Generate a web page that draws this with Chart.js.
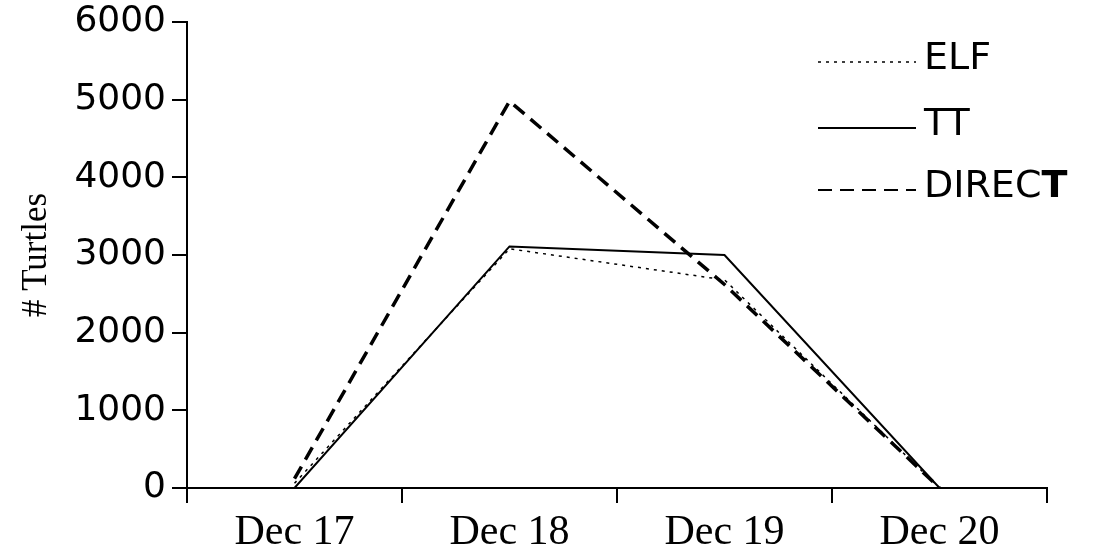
<!DOCTYPE html>
<html>
<head>
<meta charset="utf-8">
<style>
  html, body { margin: 0; padding: 0; background: #fff; }
  #wrap { width: 1100px; height: 555px; position: relative; }
</style>
<script src="https://cdn.jsdelivr.net/npm/chart.js@4/dist/chart.umd.min.js"></script>
</head>
<body>
<div id="wrap"><canvas id="turtles"></canvas></div>
<script>
const days = ['Dec 17', 'Dec 18', 'Dec 19', 'Dec 20'];
const elf = [60, 3080, 2680, 0];
const tt = [0, 3110, 3000, 0];
const direct = [120, 4980, 2620, 0];
const yTicks = [0, 1000, 2000, 3000, 4000, 5000, 6000];

const ctx = document.getElementById('turtles').getContext('2d');

// legend drawn by hand so it can sit over the plot, top right
const cornerLegend = {
  id: 'cornerLegend',
  afterDraw(chart) {
    const c = chart.ctx;
    const rows = [62, 128, 190];
    c.save();
    chart.data.datasets.forEach((ds, i) => {
      const y = rows[i];
      c.beginPath();
      c.setLineDash(ds.borderDash || []);
      c.lineWidth = Math.min(ds.borderWidth, 2);
      c.strokeStyle = '#000';
      c.moveTo(818, y);
      c.lineTo(916, y);
      c.stroke();
      c.setLineDash([]);
      c.fillStyle = '#000';
      c.textBaseline = 'middle';
      c.textAlign = 'left';
      c.font = '38px "DejaVu Sans"';
      if (ds.label === 'DIRECT') {
        const head = ds.label.slice(0, -1);
        c.fillText(head, 924, y - 3);
        const w = c.measureText(head).width;
        c.font = 'bold 38px "DejaVu Sans"';
        c.fillText(ds.label.slice(-1), 924 + w, y - 3);
      } else {
        c.fillText(ds.label, 924, y - 3);
      }
    });
    c.restore();
  }
};

new Chart(ctx, {
  type: 'line',
  data: {
    labels: days,
    datasets: [
      { label: 'ELF', data: elf, borderColor: '#000', borderWidth: 1.5, borderDash: [3, 5] },
      { label: 'TT', data: tt, borderColor: '#000', borderWidth: 2 },
      { label: 'DIRECT', data: direct, borderColor: '#000', borderWidth: 3.5, borderDash: [14, 8] }
    ]
  },
  options: {
    responsive: true,
    maintainAspectRatio: false,
    animation: false,
    layout: { padding: { top: 22, right: 53, left: 0, bottom: 0 } },
    elements: {
      line: { tension: 0, fill: false },
      point: { radius: 0, hoverRadius: 0 }
    },
    plugins: {
      legend: { display: false },
      tooltip: { enabled: false }
    },
    scales: {
      x: {
        offset: true,
        grid: { offset: true, drawOnChartArea: false, drawTicks: true, tickLength: 15, color: '#000', lineWidth: 2 },
        border: { color: '#000', width: 2 },
        ticks: {
          color: '#000',
          padding: 5,
          maxRotation: 0,
          font: { family: '"Liberation Serif", "Times New Roman", serif', size: 42 }
        },
        afterFit(scale) { scale.height = 67; }
      },
      y: {
        min: 0,
        max: 6000,
        afterBuildTicks(scale) { scale.ticks = yTicks.map(v => ({ value: v })); },
        grid: { drawOnChartArea: false, drawTicks: true, tickLength: 15, color: '#000', lineWidth: 2 },
        border: { color: '#000', width: 2 },
        ticks: {
          color: '#000',
          padding: 6,
          callback: v => String(v),
          font: { family: '"DejaVu Sans", sans-serif', size: 36 }
        },
        title: {
          display: true,
          text: '# Turtles',
          color: '#000',
          padding: { top: 16, bottom: 0 },
          font: { family: '"Liberation Serif", "Times New Roman", serif', size: 35 }
        },
        afterFit(scale) {
          scale.width = 187;
          scale.paddingTop = 0;
        }
      }
    }
  },
  plugins: [cornerLegend]
});
</script>
</body>
</html>
